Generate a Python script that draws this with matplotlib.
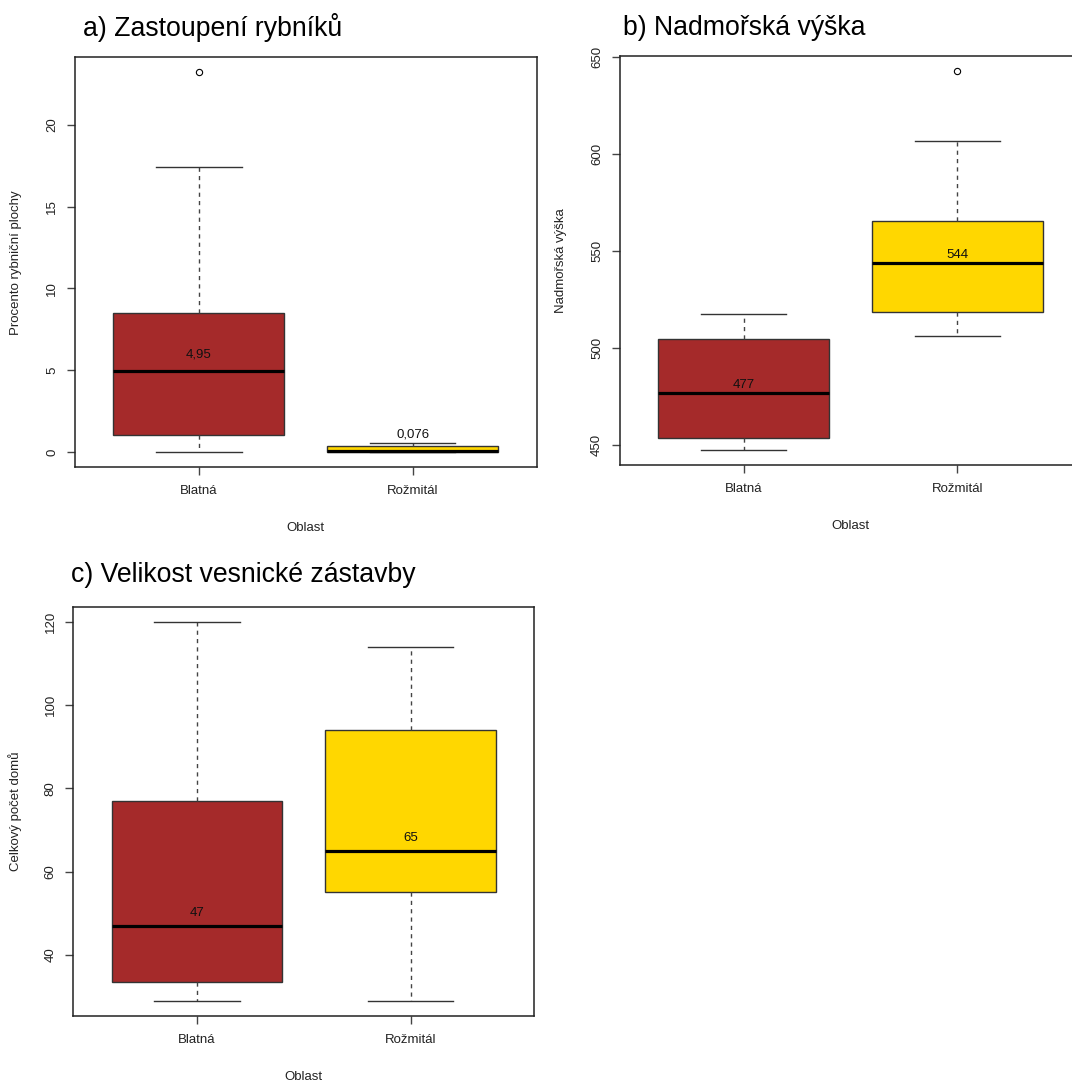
import numpy as np
import matplotlib
matplotlib.use("Agg")
import matplotlib.pyplot as plt

plt.rcParams['font.family'] = ['Liberation Sans', 'DejaVu Sans']

oblasti = ['Blatná', 'Rožmitál']
barvy = ['#A52A2A', '#FFD700']

# a) procento rybnicni plochy
ryb_min = [0.0, 0.0]
ryb_q1 = [1.04, 0.0]
ryb_med = [4.95, 0.076]
ryb_q3 = [8.48, 0.38]
ryb_max = [17.45, 0.55]
ryb_out = [[23.2], []]
ryb_popisky = ['4,95', '0,076']
ryb_ticks = [0, 5, 10, 15, 20]

# b) nadmorska vyska
vys_min = [447.5, 506.5]
vys_q1 = [453.8, 518.6]
vys_med = [477, 544]
vys_q3 = [504.6, 565.8]
vys_max = [517.7, 607]
vys_out = [[], [643]]
vys_popisky = ['477', '544']
vys_ticks = [450, 500, 550, 600, 650]

# c) celkovy pocet domu
dom_min = [29, 29]
dom_q1 = [33.6, 55.2]
dom_med = [47, 65]
dom_q3 = [77, 94]
dom_max = [120, 114]
dom_out = [[], []]
dom_popisky = ['47', '65']
dom_ticks = [40, 60, 80, 100, 120]

W, H = 1072, 1084
fig = plt.figure(figsize=(W / 100, H / 100), dpi=100)


def ax_px(left, top, right, bottom):
    # pixel box -> figure fraction
    return fig.add_axes([left / W, 1 - bottom / H, (right - left) / W, (bottom - top) / H])


def panel(ax, mins, q1s, meds, q3s, maxs, outs, popisky, ticks, ylabel, posun):
    stats = []
    for i in range(len(oblasti)):
        stats.append(dict(whislo=mins[i], q1=q1s[i], med=meds[i], q3=q3s[i],
                          whishi=maxs[i], fliers=outs[i]))
    bp = ax.bxp(stats, positions=[1, 2], widths=0.8, capwidths=0.4, patch_artist=True,
                boxprops=dict(edgecolor='#333333', linewidth=1.0),
                medianprops=dict(color='black', linewidth=2.3, solid_capstyle='butt'),
                whiskerprops=dict(color='#444444', linewidth=1.0, linestyle=(0, (3, 3))),
                capprops=dict(color='#333333', linewidth=1.0),
                flierprops=dict(marker='o', markersize=4.5, markerfacecolor='none',
                                markeredgecolor='black', markeredgewidth=0.8))
    for patch, c in zip(bp['boxes'], barvy):
        patch.set_facecolor(c)
    for i in range(len(oblasti)):
        ax.text(i + 1, meds[i] + posun, popisky[i], ha='center', va='center',
                fontsize=9.5, color='#111111')
    vse = mins + maxs + [v for o in outs for v in o]
    lo, hi = min(vse), max(vse)
    pad = 0.04 * (hi - lo)
    ax.set_ylim(lo - pad, hi + pad)
    ax.set_xlim(0.42, 2.58)
    ax.set_yticks(ticks)
    ax.set_xticks([1, 2])
    ax.set_xticklabels(oblasti)
    ax.tick_params(axis='both', length=6, width=1, color='#444444', labelsize=9.5,
                   labelcolor='#222222')
    ax.tick_params(axis='y', labelrotation=90, pad=6)
    ax.tick_params(axis='x', pad=7)
    for lbl in ax.get_yticklabels():
        lbl.set_va('center')
    for s in ax.spines.values():
        s.set_linewidth(1.1)
        s.set_color('#222222')
    ax.set_xlabel('Oblast', fontsize=9.5, color='#222222')
    ax.set_ylabel(ylabel, fontsize=9.5, color='#222222')
    ax.xaxis.label.set_va('center')
    ax.yaxis.label.set_va('center')


ax1 = ax_px(75, 57.3, 536.7, 467.3)
panel(ax1, ryb_min, ryb_q1, ryb_med, ryb_q3, ryb_max, ryb_out, ryb_popisky, ryb_ticks,
      'Procento rybniční plochy', 1.0)
ax1.xaxis.set_label_coords(0.5, (467.3 - 528) / 410)
ax1.yaxis.set_label_coords((16 - 75) / 461.7, 0.5)

ax2 = ax_px(619.7, 55.7, 1081.4, 465.3)
panel(ax2, vys_min, vys_q1, vys_med, vys_q3, vys_max, vys_out, vys_popisky, vys_ticks,
      'Nadmořská výška', 4.0)
ax2.xaxis.set_label_coords(0.5, (465.3 - 526) / 409.6)
ax2.yaxis.set_label_coords((561 - 619.7) / 461.7, 0.5)

ax3 = ax_px(73.3, 606.7, 534.3, 1016)
panel(ax3, dom_min, dom_q1, dom_med, dom_q3, dom_max, dom_out, dom_popisky, dom_ticks,
      'Celkový počet domů', 3.0)
ax3.xaxis.set_label_coords(0.5, (1016 - 1077) / 409.3)
ax3.yaxis.set_label_coords((15 - 73.3) / 461, 0.5)

fig.text(83 / W, 1 - 36 / H, 'a) Zastoupení rybníků', fontsize=19.2, va='baseline', ha='left')
fig.text(623 / W, 1 - 35 / H, 'b) Nadmořská výška', fontsize=19.2, va='baseline', ha='left')
fig.text(71 / W, 1 - 582 / H, 'c) Velikost vesnické zástavby', fontsize=19.2, va='baseline', ha='left')

fig.savefig('out.png', dpi=100)
